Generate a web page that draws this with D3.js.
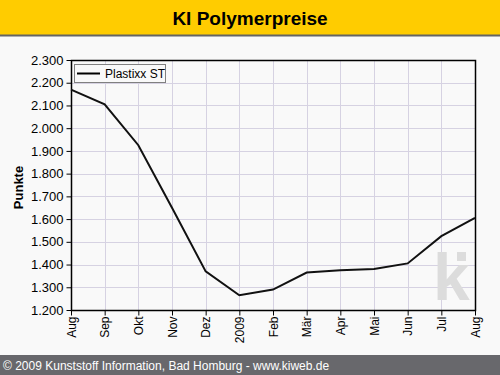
<!DOCTYPE html>
<html lang="de">
<head>
<meta charset="utf-8" />
<title>KI Polymerpreise</title>
<style>
    body { margin: 0; background: #f9f9f9; }
    svg text { font-family: "Liberation Sans", Arial, sans-serif; }
</style>
<script src="https://cdn.jsdelivr.net/npm/d3@7/dist/d3.min.js"></script>
</head>
<body>
<script>
var months = ['Aug', 'Sep', 'Okt', 'Nov', 'Dez', '2009', 'Feb', 'Mär', 'Apr', 'Mai', 'Jun', 'Jul', 'Aug'];
var plastixx = [2170, 2105, 1925, 1650, 1370, 1265, 1290, 1365, 1375, 1380, 1405, 1525, 1605];
var yTicks = [1200, 1300, 1400, 1500, 1600, 1700, 1800, 1900, 2000, 2100, 2200, 2300];

var width = 500, height = 375;
var plotLeft = 71, plotRight = 475, plotTop = 60, plotBottom = 310;

var svg = d3.select('body').append('svg')
    .attr('width', width)
    .attr('height', height);

svg.append('rect').attr('width', width).attr('height', height).attr('fill', '#f9f9f9');

// title bar
svg.append('rect').attr('width', width).attr('height', 35).attr('fill', '#ffcc00');
svg.append('rect').attr('y', 34.5).attr('width', width).attr('height', 2).attr('fill', '#646464');
svg.append('text')
    .attr('x', width / 2).attr('y', 25)
    .attr('text-anchor', 'middle')
    .attr('font-size', 19).attr('font-weight', 'bold')
    .text('KI Polymerpreise');

// footer
svg.append('rect').attr('y', 355).attr('width', width).attr('height', 20).attr('fill', '#68686c');
svg.append('text')
    .attr('x', 3).attr('y', 369.5)
    .attr('fill', '#fff').attr('font-size', 12)
    .text('© 2009 Kunststoff Information, Bad Homburg - www.kiweb.de');

var x = d3.scalePoint()
    .domain(d3.range(months.length))
    .range([plotLeft, plotRight]);

var y = d3.scaleLinear()
    .domain([1200, 2300])
    .range([plotBottom, plotTop]);

// grid
var grid = svg.append('g').attr('stroke', '#d6d2e2').attr('stroke-width', 1);
grid.selectAll('.h').data(yTicks).enter().append('line')
    .attr('x1', plotLeft).attr('x2', plotRight)
    .attr('y1', function(d) { return Math.round(y(d)) + 0.5; })
    .attr('y2', function(d) { return Math.round(y(d)) + 0.5; });
grid.selectAll('.v').data(d3.range(months.length)).enter().append('line')
    .attr('y1', plotTop).attr('y2', plotBottom)
    .attr('x1', function(d) { return Math.round(x(d)) + 0.5; })
    .attr('x2', function(d) { return Math.round(x(d)) + 0.5; });

// watermark
svg.append('text')
    .attr('x', 433).attr('y', 300)
    .attr('font-size', 66).attr('font-weight', 'bold')
    .attr('fill', '#dcdcdc')
    .text('k');
svg.append('rect').attr('x', 457).attr('y', 252).attr('width', 9).attr('height', 9).attr('fill', '#dcdcdc');

// frame
svg.append('rect')
    .attr('x', plotLeft + 0.5).attr('y', plotTop + 0.5)
    .attr('width', plotRight - plotLeft).attr('height', plotBottom - plotTop)
    .attr('fill', 'none').attr('stroke', '#000').attr('stroke-width', 1.5);

// axes
var yAxis = d3.axisLeft(y)
    .tickValues(yTicks)
    .tickSize(5)
    .tickFormat(function(d) { return d3.format(',.3f')(d / 1000).replace(',', '.'); });
var gy = svg.append('g').attr('transform', 'translate(' + (plotLeft + 0.5) + ',0)').call(yAxis);
gy.select('.domain').remove();
gy.selectAll('text').attr('font-size', 13).attr('fill', '#000').attr('font-family', '"Liberation Sans", Arial, sans-serif');
gy.selectAll('line').attr('stroke', '#000');

var xAxis = d3.axisBottom(x)
    .tickSize(5)
    .tickFormat(function(i) { return months[i]; });
var gx = svg.append('g').attr('transform', 'translate(0,' + (plotBottom + 0.5) + ')').call(xAxis);
gx.select('.domain').remove();
gx.selectAll('line').attr('stroke', '#000');
gx.selectAll('text')
    .attr('font-size', 12).attr('fill', '#000')
    .attr('font-family', '"Liberation Sans", Arial, sans-serif')
    .attr('transform', 'rotate(-90)')
    .attr('text-anchor', 'end')
    .attr('x', -6).attr('y', 0).attr('dy', '0.35em');

// y label
svg.append('text')
    .attr('transform', 'translate(22.5,187.5) rotate(-90)')
    .attr('text-anchor', 'middle')
    .attr('font-size', 13).attr('font-weight', 'bold')
    .text('Punkte');

// line
var line = d3.line()
    .x(function(d, i) { return x(i); })
    .y(function(d) { return y(d); });
svg.append('path')
    .datum(plastixx)
    .attr('d', line)
    .attr('fill', 'none')
    .attr('stroke', '#111')
    .attr('stroke-width', 2);

// legend
var lg = svg.append('g');
lg.append('rect')
    .attr('x', 74.5).attr('y', 64.5).attr('width', 91).attr('height', 18)
    .attr('fill', '#f9f9f9').attr('stroke', '#808080');
lg.append('line')
    .attr('x1', 77).attr('x2', 100).attr('y1', 73.5).attr('y2', 73.5)
    .attr('stroke', '#000').attr('stroke-width', 2);
lg.append('text')
    .attr('x', 105).attr('y', 78)
    .attr('font-size', 12)
    .text('Plastixx ST');
</script>
</body>
</html>
